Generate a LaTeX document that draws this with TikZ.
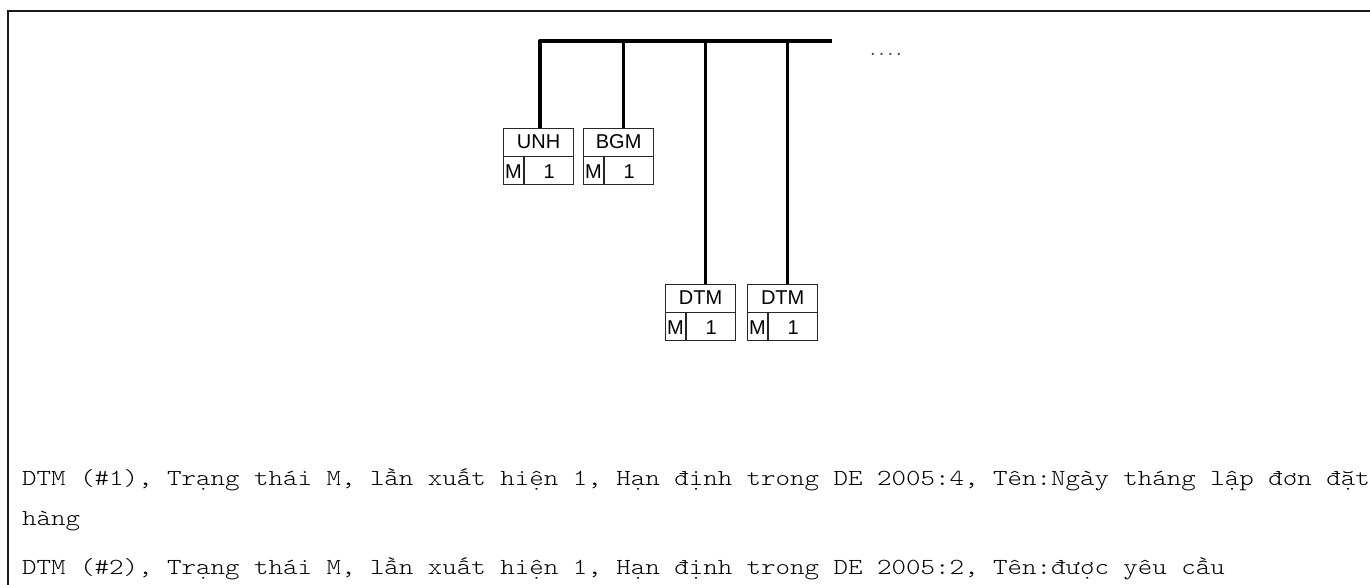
\documentclass[tikz,border=0pt]{standalone}
\usepackage{fontspec}
\setmainfont{Liberation Sans}
\newfontfamily\descfont{lmmonolt10-regular.otf}
\usetikzlibrary{calc}
\tikzset{
  framebox/.style={draw=black!85, line width=1.3pt, minimum width=70pt, minimum height=56pt, inner sep=0pt, anchor=north west},
  divider/.style={draw=black!85, line width=1.3pt},
  lbl/.style={inner sep=0pt, font=\fontsize{20}{20}\selectfont},
  busline/.style={line width=3.4pt, line join=round},
  stem/.style={line width=3pt},
  desc/.style={inner sep=0pt, anchor=base west, xscale=1.2, transform shape, font=\descfont\fontsize{23}{28}\selectfont},
}
\newcommand{\segbox}[4]{%
  \node[framebox] (#1) at (#2,#3) {};
  \draw[divider] (#1.west) -- (#1.east);
  \draw[divider] ($(#1.west)+(21,0)$) -- ($(#1.south west)+(21,0)$);
  \node[lbl] (#1-tag) at ($(#1.north)+(0,14)$) {#4};
  \node[lbl] (#1-st) at ($(#1.south west)+(10.5,-14)$) {M};
  \node[lbl] (#1-occ) at ($(#1.south)+(10.5,-14)$) {1};
}
\begin{document}
\begin{tikzpicture}[x=1pt,y=-1pt]
\useasboundingbox (0,0) rectangle (1370,585);
\fill[white] (0,0) rectangle (1370,585);
\draw[line width=2pt, draw=black!90] (8,585) -- (8,11) -- (1370,11);

\segbox{unh}{503}{128}{UNH}
\segbox{bgm}{583}{128}{BGM}
\segbox{dtma}{665}{284}{DTM}
\segbox{dtmb}{747}{284}{DTM}

\coordinate (b1) at (540,41);
\coordinate (b2) at (623,41);
\coordinate (b3) at (705,41);
\coordinate (b4) at (787,41);
\coordinate (bend) at (832,41);

\draw[busline] (b1 |- unh.north) -- (b1) -- (bend);
\draw[stem] (b2) -- (b2 |- bgm.north);
\draw[stem] (b3) -- (b3 |- dtma.north);
\draw[stem] (b4) -- (b4 |- dtmb.north);

\node[inner sep=0pt, anchor=base, text=black!70, font=\fontsize{20}{20}\selectfont] (more) at (886,56) {.\hspace{3.1pt}.\hspace{3.1pt}.\hspace{3.1pt}.};

\begin{scope}
\clip (0,0) rectangle (1370,585);
\node[desc] (t1) at (22,485) {DTM (\#1), Trạng thái M, lần xuất hiện 1, Hạn định trong DE 2005:4, Tên:Ngày tháng lập đơn đặt};
\node[desc] (t2) at (22,525) {hàng};
\node[desc] (t3) at (22,574) {DTM (\#2), Trạng thái M, lần xuất hiện 1, Hạn định trong DE 2005:2, Tên:được yêu cầu};
\end{scope}
\end{tikzpicture}
\end{document}
